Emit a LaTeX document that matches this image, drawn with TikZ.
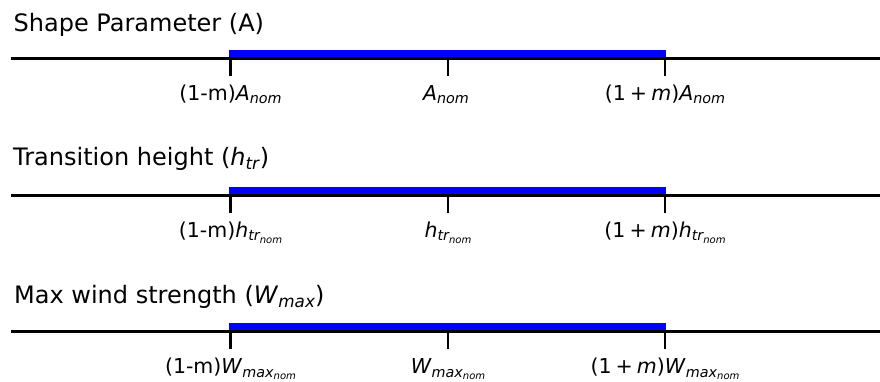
\documentclass[tikz,border=0pt]{standalone}
\usepackage{fontspec}
\setmainfont{DejaVu Sans}
\usepackage{tikz}
\usetikzlibrary{positioning,calc}
\definecolor{bandblue}{HTML}{0000FF}
\makeatletter
\newcommand{\subs}[1]{\raisebox{-0.18em}{\fontsize{\strip@pt\dimexpr0.7\dimexpr\f@size pt\relax\relax}{0}\selectfont\itshape #1\/}}
\makeatother
\newcommand{\plusm}{(1\kern0.2em+\kern0.2em\textit{m})}
\tikzset{
  axisline/.style={line width=3pt,black},
  band/.style={line width=7pt,bandblue},
  tickmark/.style={line width=2.5pt,black},
  ttl/.style={anchor=base west,inner sep=0pt,font=\fontsize{24}{28}\selectfont},
  lbl/.style={anchor=base,inner sep=0pt,font=\fontsize{20.5}{24}\selectfont},
}

\begin{document}
\begin{tikzpicture}[x=1pt,y=-1pt]
  \useasboundingbox (0,0) rectangle (880,381);
  % shape parameter
  \node[ttl] (ttlA) at (13.5,31) {Shape Parameter (A)};
  \coordinate (A0) at (11,58.5);  \coordinate (A1) at (880,58.5);
  \coordinate (Alo) at (230.5,58.5); \coordinate (Anom) at (448,58.5); \coordinate (Ahi) at (665,58.5);
  \draw[band] ($(Alo)+(-1.25,-5)$) -- ($(Ahi)+(1.25,-5)$);
  \draw[axisline] (A0) -- (A1);
  \foreach \t in {Alo,Anom,Ahi} \draw[tickmark] (\t) -- ++(0,17);
  \node[lbl] (lblAlo) at (230.5,100) {(1-m)\textit{A}\subs{nom}};
  \node[lbl] (lblAnom) at (446,100) {\textit{A}\subs{nom}};
  \node[lbl] (lblAhi) at (665,100) {\plusm\textit{A}\subs{nom}};
  % transition height
  \node[ttl] (ttlH) at (13,165.5) {Transition height (\textit{h}\subs{tr})};
  \coordinate (H0) at (11,195.7);  \coordinate (H1) at (880,195.7);
  \coordinate (Hlo) at (230.5,195.7); \coordinate (Hnom) at (448,195.7); \coordinate (Hhi) at (665,195.7);
  \draw[band] ($(Hlo)+(-1.25,-5)$) -- ($(Hhi)+(1.25,-5)$);
  \draw[axisline] (H0) -- (H1);
  \foreach \t in {Hlo,Hnom,Hhi} \draw[tickmark] (\t) -- ++(0,17);
  \node[lbl] (lblHlo) at (230.5,237.3) {(1-m)\textit{h}\subs{tr\subs{nom}}};
  \node[lbl] (lblHnom) at (448,237.3) {\textit{h}\subs{tr\subs{nom}}};
  \node[lbl] (lblHhi) at (665,237.3) {\plusm\textit{h}\subs{tr\subs{nom}}};
  % max wind strength
  \node[ttl] (ttlW) at (14,303.3) {Max wind strength (\textit{W}\subs{max})};
  \coordinate (W0) at (11,331.7);  \coordinate (W1) at (880,331.7);
  \coordinate (Wlo) at (230.5,331.7); \coordinate (Wnom) at (448,331.7); \coordinate (Whi) at (665,331.7);
  \draw[band] ($(Wlo)+(-1.25,-5)$) -- ($(Whi)+(1.25,-5)$);
  \draw[axisline] (W0) -- (W1);
  \foreach \t in {Wlo,Wnom,Whi} \draw[tickmark] (\t) -- ++(0,17);
  \node[lbl] (lblWlo) at (230.5,373.5) {(1-m)\textit{W}\subs{max\subs{nom}}};
  \node[lbl] (lblWnom) at (448,373.5) {\textit{W}\subs{max\subs{nom}}};
  \node[lbl] (lblWhi) at (665,373.5) {\plusm\textit{W}\subs{max\subs{nom}}};
\end{tikzpicture}
\end{document}
